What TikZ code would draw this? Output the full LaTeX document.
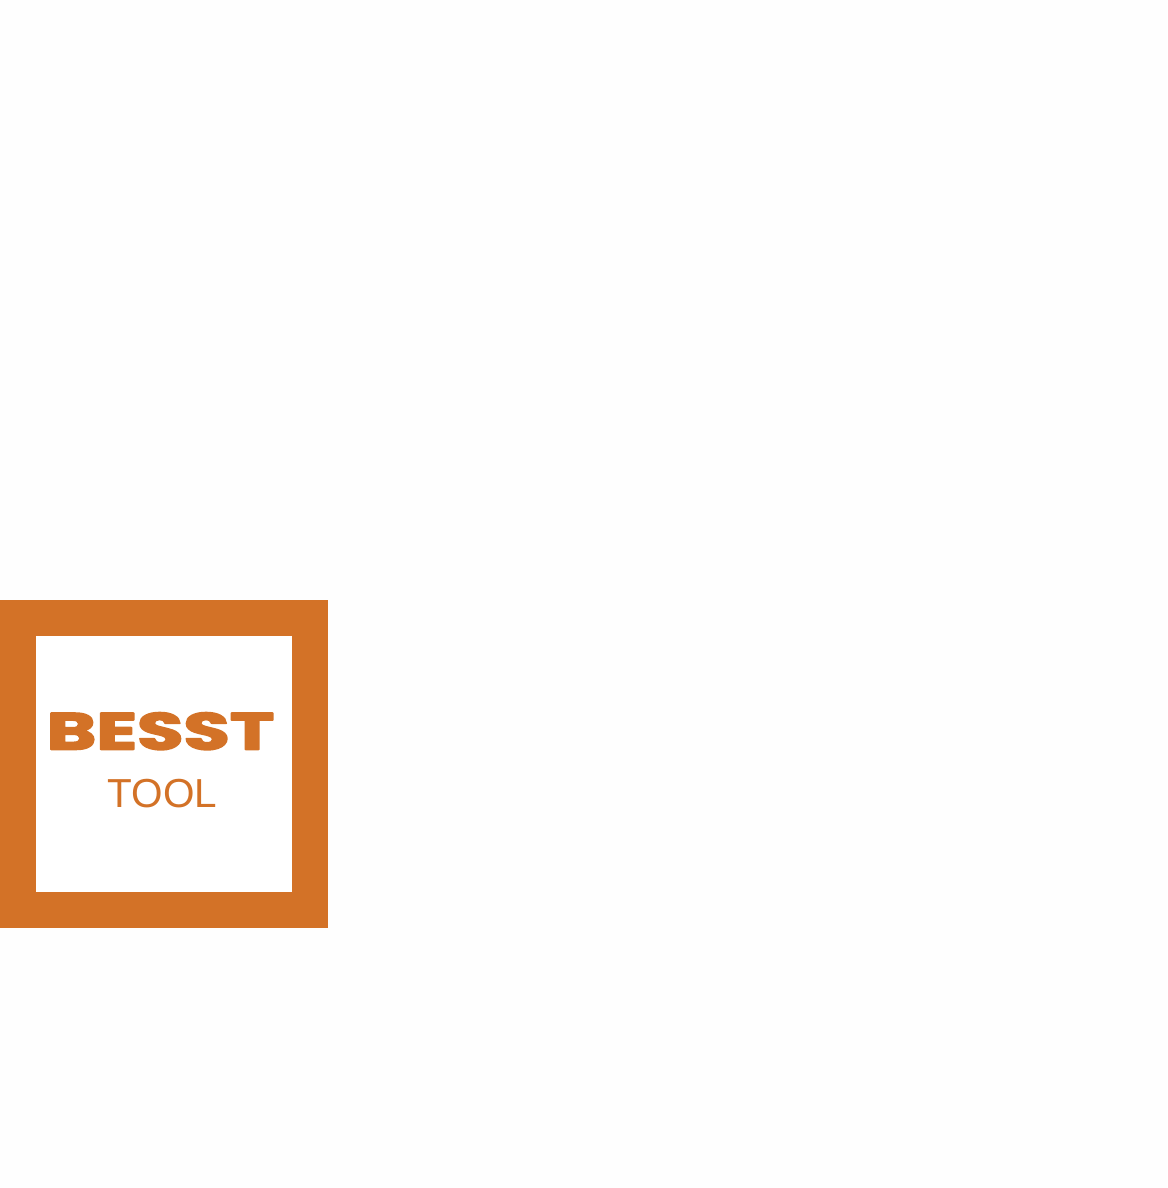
\documentclass[tikz,border=0pt]{standalone}
\usepackage{fontspec}
\setmainfont{Liberation Sans}
\newfontfamily\besstfont[FakeBold=3]{Poppins}
\definecolor{logoorange}{HTML}{D37227}
\definecolor{pagewhite}{HTML}{FEFEFE}
\tikzset{
  frame/.style={draw=none,fill=logoorange,inner sep=0pt,minimum width=#1,minimum height=#1},
  innerframe/.style={draw=none,fill=white,inner sep=0pt,minimum width=#1,minimum height=#1},
  brand/.style={text=logoorange,inner sep=0pt,font=\besstfont\bfseries\fontsize{52}{52}\selectfont,xscale=1.45},
  subbrand/.style={text=logoorange,inner sep=0pt,font=\fontsize{40.5}{41}\selectfont}
}
\begin{document}
\begin{tikzpicture}[x=1pt,y=-1pt]
\useasboundingbox (0,0) rectangle (1167,1188);
\fill[pagewhite] (0,0) rectangle (1167,1188);
\node[frame=328pt] (outer) at (164,764) {};
\node[innerframe=256pt] (inner) at (164,764) {};
\node[brand,anchor=base] (besst) at (160.5,749.5) {\pgfsetroundjoin BESST};
\node[subbrand,anchor=base] (tool) at (162.5,807) {TOOL};
\end{tikzpicture}
\end{document}
